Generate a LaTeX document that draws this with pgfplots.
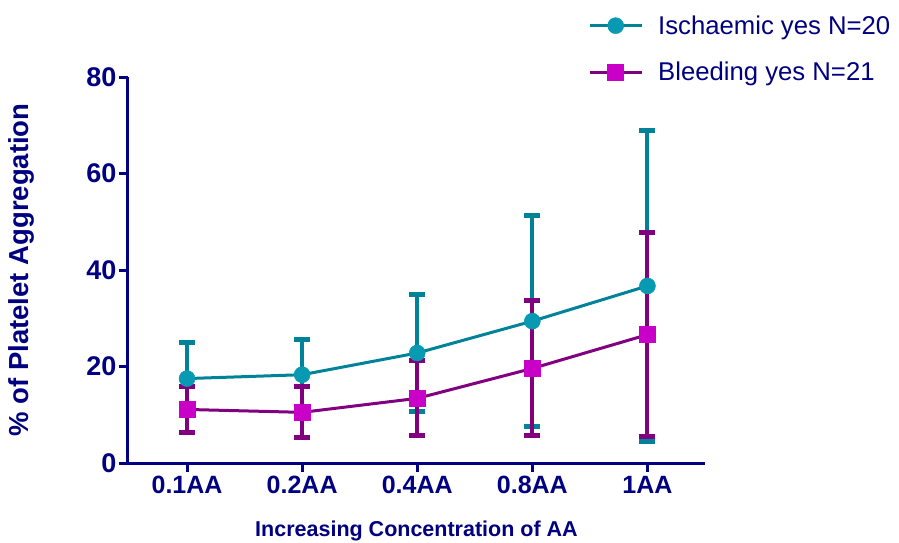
\documentclass[border=0pt]{standalone}
\usepackage{pgfplots}
\pgfplotsset{compat=1.18}
\usepackage{fontspec}
\setmainfont{Liberation Sans}
\definecolor{navyc}{RGB}{0,0,128}
\definecolor{tealline}{RGB}{0,130,153}
\definecolor{tealmark}{RGB}{8,154,178}
\definecolor{purpline}{RGB}{128,0,128}
\definecolor{magmark}{RGB}{200,0,200}
\begin{document}
\begin{tikzpicture}
\begin{axis}[
  scale only axis, width=577pt, height=386pt,
  xmin=-0.513, xmax=4.5, ymin=0, ymax=80,
  axis x line*=bottom, axis y line*=left,
  axis line style={navyc, line width=3pt},
  xtick={0,1,2,3,4}, xticklabels={0.1AA,0.2AA,0.4AA,0.8AA,1AA},
  ytick={0,20,40,60,80},
  minor tick num=0,
  tick align=outside, major tick length=9pt,
  tick style={navyc, line width=3pt},
  ticklabel style={font=\bfseries\fontsize{25}{30}\selectfont, text=navyc},
  yticklabel style={font=\bfseries\fontsize{27}{30}\selectfont, xshift=1pt},
  /pgf/number format/assume math mode=true,
  xticklabel style={yshift=-1pt},
  xlabel={Increasing Concentration of AA},
  ylabel={\% of Platelet Aggregation},
  xlabel style={font=\bfseries\fontsize{21.5}{26}\selectfont, text=navyc, at={(axis description cs:0.5,-0.176)}, anchor=center},
  ylabel style={font=\bfseries\fontsize{27.5}{30}\selectfont, text=navyc, at={(axis description cs:-0.184,0.5)}, anchor=center},
  clip=false,
  legend style={at={(axis description cs:0.792,1.17)}, anchor=north west, draw=none, fill=none,
    font=\fontsize{25.7}{30}\selectfont, text=navyc, row sep=22.5pt,
    /tikz/every odd column/.append style={column sep=13pt}},
  legend cell align=left,
  legend image code/.code={\draw[mark repeat=2,mark phase=2,#1] plot coordinates {(0pt,0pt) (26pt,0pt) (52pt,0pt)};},
]
\addplot[color=tealline, line width=3pt, mark=*, mark size=8pt,
  mark options={fill=tealmark, draw=tealmark, line width=0.5pt},
  error bars/.cd, y dir=both, y explicit,
  error bar style={line width=4pt, color=tealline},
  error mark options={rotate=90, mark size=8pt, line width=5pt, color=tealline}]
coordinates {(0,17.5) +- (0,7.5) (1,18.3) +- (0,7.3) (2,22.8) +- (0,12.2) (3,29.4) +- (0,21.9) (4,36.7) +- (0,32.3)};
\addlegendentry{Ischaemic yes N=20}
\addplot[color=purpline, line width=3pt, mark=square*, mark size=8pt,
  mark options={fill=magmark, draw=magmark, line width=0.5pt},
  error bars/.cd, y dir=both, y explicit,
  error bar style={line width=4pt, color=purpline},
  error mark options={rotate=90, mark size=8pt, line width=5pt, color=purpline}]
coordinates {(0,11.1) +- (0,4.7) (1,10.5) +- (0,5.3) (2,13.4) +- (0,7.8) (3,19.6) +- (0,14.0) (4,26.6) +- (0,21.1)};
\addlegendentry{Bleeding yes N=21}
\end{axis}
\pgfresetboundingbox
\path[use as bounding box] (-128pt,-79pt) rectangle (771pt,463pt);
\end{tikzpicture}
\end{document}
